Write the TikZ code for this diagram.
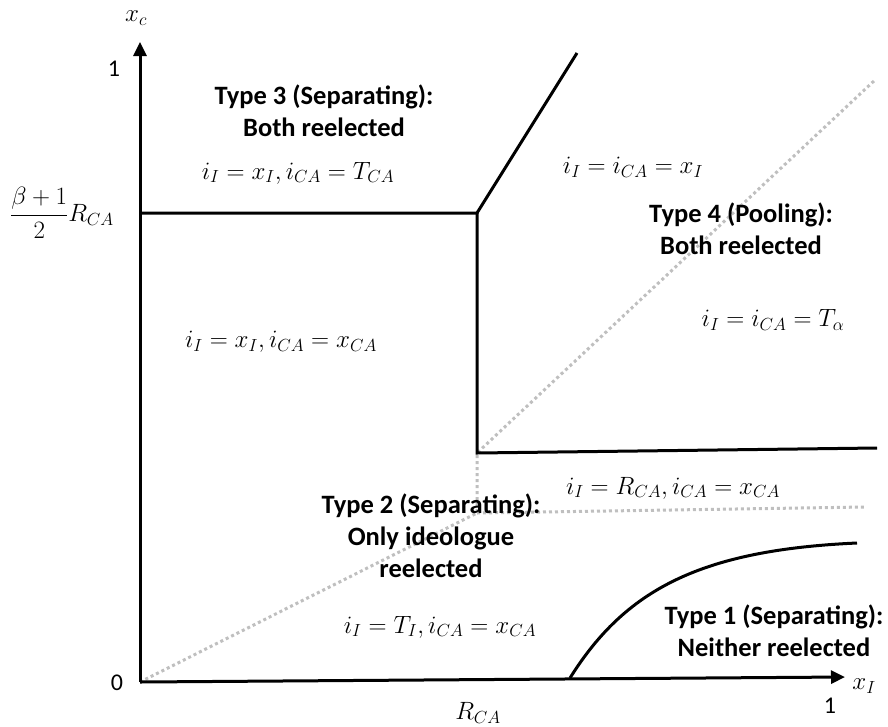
\RequirePackage{fix-cm}
\documentclass[tikz,border=0pt]{standalone}
\usepackage{amsmath,amssymb}
\usepackage{fontspec}
\setmainfont{Carlito}
\usetikzlibrary{arrows.meta}

\begin{document}
\begin{tikzpicture}[x=1pt,y=-1pt]
\tikzset{
  axis/.style={-{Triangle[length=14pt,width=13pt]},line width=3pt},
  bound/.style={line width=3pt},
  guide/.style={line width=3pt,draw=black!25,dash pattern=on 3pt off 3pt},
  typelabel/.style={align=center,font=\bfseries\fontsize{26.5}{32}\selectfont,inner sep=0pt},
  eqlabel/.style={font=\fontsize{25}{29}\selectfont,inner sep=0pt},
  ticklabel/.style={font=\fontsize{24}{28}\selectfont,inner sep=0pt}
}
\useasboundingbox (0,0) rectangle (888,726);
% points of the partition
\coordinate (c_o) at (140,682);
\coordinate (c_ytip) at (140,42);
\coordinate (c_xtip) at (845,677);
\coordinate (c_left) at (140,213);
\coordinate (c_kink) at (477,213);
\coordinate (c_top) at (577,53);
\coordinate (c_corner) at (477,453);
\coordinate (c_right) at (877,448);
\coordinate (c_mid) at (477,513);
\coordinate (c_midr) at (865,507);
\coordinate (c_diag) at (875,80);
\coordinate (c_cs) at (570,678);
\coordinate (c_ce) at (857,543);
% dotted guides
\draw[guide] (c_o) -- (c_mid) -- (c_corner) -- (c_diag);
\draw[guide] (c_mid) -- (c_midr);
% axes
\draw[axis] (c_o) -- (c_ytip);
\draw[axis] (c_o) -- (c_xtip);
% boundaries
\draw[bound] (c_left) -- (c_kink) -- (c_top);
\draw[bound] (c_kink) -- (c_corner) -- (c_right);
\draw[bound] (c_cs) .. controls (625,590) and (700,550) .. (c_ce);
% axis labels
\node[eqlabel] (n_xc) at (136,18) {$x_c$};
\node[eqlabel] (n_xi) at (864,686) {$x_I$};
\node[ticklabel] (n_y1) at (114,69) {1};
\node[ticklabel] (n_zero) at (117,683) {0};
\node[ticklabel] (n_x1) at (830,706) {1};
\node[eqlabel] (n_rca) at (478,713) {$R_{CA}$};
\node[eqlabel] (n_frac) at (62,213) {$\dfrac{\beta+1}{2}R_{CA}$};
% regions
\node[typelabel] (n_t3) at (324,111) {Type 3 (Separating):\\Both reelected};
\node[eqlabel] (n_e3) at (298,173) {$i_I = x_I, i_{CA} = T_{CA}$};
\node[eqlabel] (n_e2a) at (281,342) {$i_I = x_I, i_{CA} = x_{CA}$};
\node[eqlabel] (n_e4a) at (633,167) {$i_I = i_{CA} = x_I$};
\node[typelabel] (n_t4) at (741,229) {Type 4 (Pooling):\\Both reelected};
\node[eqlabel] (n_e4b) at (773,320) {$i_I = i_{CA} = T_\alpha$};
\node[eqlabel] (n_e2b) at (673,488) {$i_I = R_{CA}, i_{CA} = x_{CA}$};
\node[typelabel] (n_t2) at (431,536) {Type 2 (Separating):\\Only ideologue\\reelected};
\node[eqlabel] (n_e1) at (440,627) {$i_I = T_I, i_{CA} = x_{CA}$};
\node[typelabel] (n_t1) at (774,631) {Type 1 (Separating):\\Neither reelected};
\end{tikzpicture}
\end{document}
